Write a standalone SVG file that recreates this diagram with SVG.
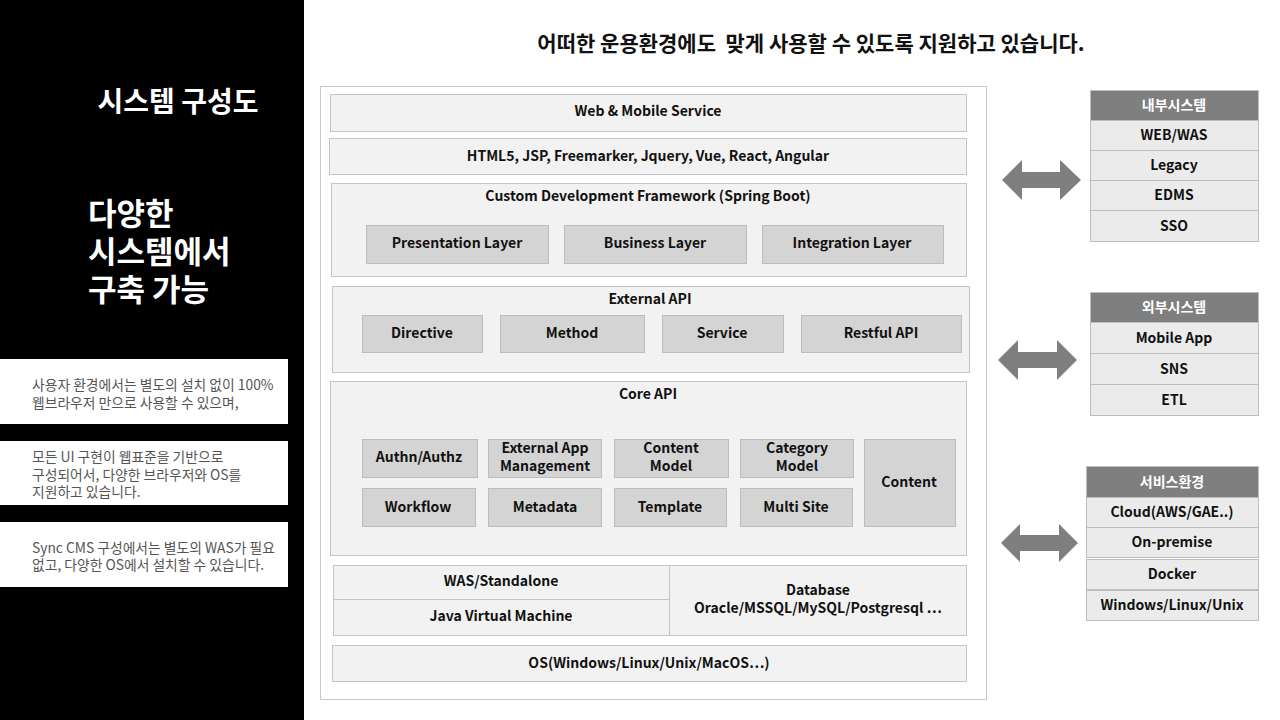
<svg xmlns="http://www.w3.org/2000/svg" width="1280" height="720" viewBox="0 0 1280 720">
<style>
.kr{font-family:"Noto Sans CJK KR","Noto Sans",sans-serif}
.t{font-family:"Noto Sans CJK KR","Noto Sans",sans-serif;font-weight:700;font-size:14px;fill:#111;text-anchor:middle}
.sec{fill:#f2f2f2;stroke:#c4c4c4;stroke-width:1}
.box{fill:#d4d4d4;stroke:#bdbdbd;stroke-width:1}
.hdr{fill:#7f7f7f;stroke:#bdbdbd;stroke-width:1}
.row{fill:#ebebeb;stroke:#bdbdbd;stroke-width:1}
.ht{font-family:"Noto Sans CJK KR","Noto Sans",sans-serif;font-weight:700;font-size:14px;fill:#fff;text-anchor:middle}
.desc{font-family:"Noto Sans CJK KR","Noto Sans",sans-serif;font-size:13.8px;fill:#555}
.arr{fill:#7f7f7f}
</style>
<rect x="0" y="0" width="1280" height="720" fill="#fff"/>
<g id="left-panel">
<rect x="0" y="0" width="304" height="720" fill="#000"/>
<text x="178" y="112" class="kr" font-size="28" font-weight="700" fill="#fff" text-anchor="middle">시스템 구성도</text>
<text x="88" y="225" class="kr" font-size="31" font-weight="700" fill="#fff">다양한</text>
<text x="88" y="263" class="kr" font-size="31" font-weight="700" fill="#fff">시스템에서</text>
<text x="88" y="301" class="kr" font-size="31" font-weight="700" fill="#fff">구축 가능</text>
<rect x="0" y="359" width="288" height="65" fill="#fff"/>
<text class="desc"><tspan x="32" y="390">사용자 환경에서는 별도의 설치 없이 100%</tspan><tspan x="32" y="408">웹브라우저 만으로 사용할 수 있으며,</tspan></text>
<rect x="0" y="441" width="288" height="64" fill="#fff"/>
<text class="desc"><tspan x="32" y="462">모든 UI 구현이 웹표준을 기반으로</tspan><tspan x="32" y="480">구성되어서, 다양한 브라우저와 OS를</tspan><tspan x="32" y="497">지원하고 있습니다.</tspan></text>
<rect x="0" y="522" width="288" height="65" fill="#fff"/>
<text class="desc"><tspan x="32" y="553">Sync CMS 구성에서는 별도의 WAS가 필요</tspan><tspan x="32" y="570">없고, 다양한 OS에서 설치할 수 있습니다.</tspan></text>
</g>
<text x="811" y="51" class="kr" font-size="21" font-weight="700" fill="#111" text-anchor="middle">어떠한 운용환경에도&#160; 맞게 사용할 수 있도록 지원하고 있습니다.</text>
<g id="main">
<rect x="320.5" y="86.5" width="666" height="613" fill="#fff" stroke="#c8c8c8"/>
</g>
<g id="web-mobile">
<rect x="330.5" y="94.5" width="636" height="37" class="sec"/>
<text x="648" y="116" class="t">Web &amp; Mobile Service</text>
</g>
<g id="html5">
<rect x="329.5" y="138.5" width="637" height="36" class="sec"/>
<text x="648" y="161" class="t">HTML5, JSP, Freemarker, Jquery, Vue, React, Angular</text>
</g>
<g id="framework">
<rect x="331.5" y="183.5" width="635" height="93" class="sec"/>
<text x="648" y="201" class="t">Custom Development Framework (Spring Boot)</text>
<rect x="366.5" y="225.5" width="182" height="38" class="box"/>
<text x="457" y="248" class="t">Presentation Layer</text>
<rect x="564.5" y="225.5" width="182" height="38" class="box"/>
<text x="655" y="248" class="t">Business Layer</text>
<rect x="762.5" y="225.5" width="181" height="38" class="box"/>
<text x="852" y="248" class="t">Integration Layer</text>
</g>
<g id="external-api">
<rect x="332.5" y="286.5" width="637" height="86" class="sec"/>
<text x="650" y="304" class="t">External API</text>
<rect x="362.5" y="315.5" width="120" height="37" class="box"/>
<text x="422" y="338" class="t">Directive</text>
<rect x="500.5" y="315.5" width="144" height="37" class="box"/>
<text x="572" y="338" class="t">Method</text>
<rect x="662.5" y="315.5" width="121" height="37" class="box"/>
<text x="722" y="338" class="t">Service</text>
<rect x="801.5" y="315.5" width="160" height="37" class="box"/>
<text x="881" y="338" class="t">Restful API</text>
</g>
<g id="core-api">
<rect x="330.5" y="381.5" width="636" height="174" class="sec"/>
<text x="648" y="399" class="t">Core API</text>
<rect x="362.5" y="439.5" width="115" height="38" class="box"/>
<text x="419" y="462" class="t">Authn/Authz</text>
<rect x="488.5" y="439.5" width="113" height="38" class="box"/>
<text class="t"><tspan x="545" y="453">External App</tspan><tspan x="545" y="471">Management</tspan></text>
<rect x="614.5" y="439.5" width="114" height="38" class="box"/>
<text class="t"><tspan x="671" y="453">Content</tspan><tspan x="671" y="471">Model</tspan></text>
<rect x="740.5" y="439.5" width="113" height="38" class="box"/>
<text class="t"><tspan x="797" y="453">Category</tspan><tspan x="797" y="471">Model</tspan></text>
<rect x="864.5" y="439.5" width="91" height="87" class="box"/>
<text x="909" y="487" class="t">Content</text>
<rect x="362.5" y="488.5" width="113" height="38" class="box"/>
<text x="418" y="512" class="t">Workflow</text>
<rect x="488.5" y="488.5" width="113" height="38" class="box"/>
<text x="545" y="512" class="t">Metadata</text>
<rect x="614.5" y="488.5" width="112" height="38" class="box"/>
<text x="670" y="512" class="t">Template</text>
<rect x="740.5" y="488.5" width="112" height="38" class="box"/>
<text x="796" y="512" class="t">Multi Site</text>
</g>
<g id="runtime">
<rect x="333.5" y="565.5" width="633" height="70" class="sec"/>
<line x1="333.5" y1="599.5" x2="669.5" y2="599.5" stroke="#c4c4c4"/>
<line x1="669.5" y1="565.5" x2="669.5" y2="635.5" stroke="#c4c4c4"/>
<text x="501" y="586" class="t">WAS/Standalone</text>
<text x="501" y="621" class="t">Java Virtual Machine</text>
<text class="t"><tspan x="818" y="595">Database</tspan><tspan x="818" y="613">Oracle/MSSQL/MySQL/Postgresql …</tspan></text>
</g>
<g id="os">
<rect x="332.5" y="645.5" width="634" height="36" class="sec"/>
<text x="649" y="668" class="t">OS(Windows/Linux/Unix/MacOS…)</text>
</g>
<g id="internal">
<rect x="1090.5" y="90.5" width="168" height="30" class="hdr"/>
<text x="1174" y="110" class="ht">내부시스템</text>
<rect x="1090.5" y="120.5" width="168" height="30" class="row"/>
<text x="1174" y="140" class="t">WEB/WAS</text>
<rect x="1090.5" y="150.5" width="168" height="30" class="row"/>
<text x="1174" y="170" class="t">Legacy</text>
<rect x="1090.5" y="180.5" width="168" height="30" class="row"/>
<text x="1174" y="200" class="t">EDMS</text>
<rect x="1090.5" y="210.5" width="168" height="31" class="row"/>
<text x="1174" y="231" class="t">SSO</text>
</g>
<g id="external">
<rect x="1090.5" y="292.5" width="168" height="30" class="hdr"/>
<text x="1174" y="312" class="ht">외부시스템</text>
<rect x="1090.5" y="322.5" width="168" height="31" class="row"/>
<text x="1174" y="343" class="t">Mobile App</text>
<rect x="1090.5" y="353.5" width="168" height="31" class="row"/>
<text x="1174" y="374" class="t">SNS</text>
<rect x="1090.5" y="384.5" width="168" height="31" class="row"/>
<text x="1174" y="405" class="t">ETL</text>
</g>
<g id="service-env">
<rect x="1086.5" y="466.5" width="172" height="31" class="hdr"/>
<text x="1172" y="487" class="ht">서비스환경</text>
<rect x="1086.5" y="497.5" width="172" height="30" class="row"/>
<text x="1172" y="517" class="t">Cloud(AWS/GAE..)</text>
<rect x="1086.5" y="527.5" width="172" height="30" class="row"/>
<text x="1172" y="547" class="t">On-premise</text>
<rect x="1086.5" y="559.5" width="172" height="30" class="row"/>
<text x="1172" y="579" class="t">Docker</text>
<rect x="1086.5" y="590.5" width="172" height="30" class="row"/>
<text x="1172" y="610" class="t">Windows/Linux/Unix</text>
</g>
<g id="connectors">
<polygon class="arr" points="1002,180 1022,160 1022,172 1060,172 1060,160 1081,180 1060,200 1060,188 1022,188 1022,200"/>
<polygon class="arr" points="998,360 1018,340 1018,352 1057,352 1057,340 1077,360 1057,380 1057,368 1018,368 1018,380"/>
<polygon class="arr" points="1001,543 1020,524 1020,535 1059,535 1059,524 1078,543 1059,562 1059,551 1020,551 1020,562"/>
</g>
</svg>
